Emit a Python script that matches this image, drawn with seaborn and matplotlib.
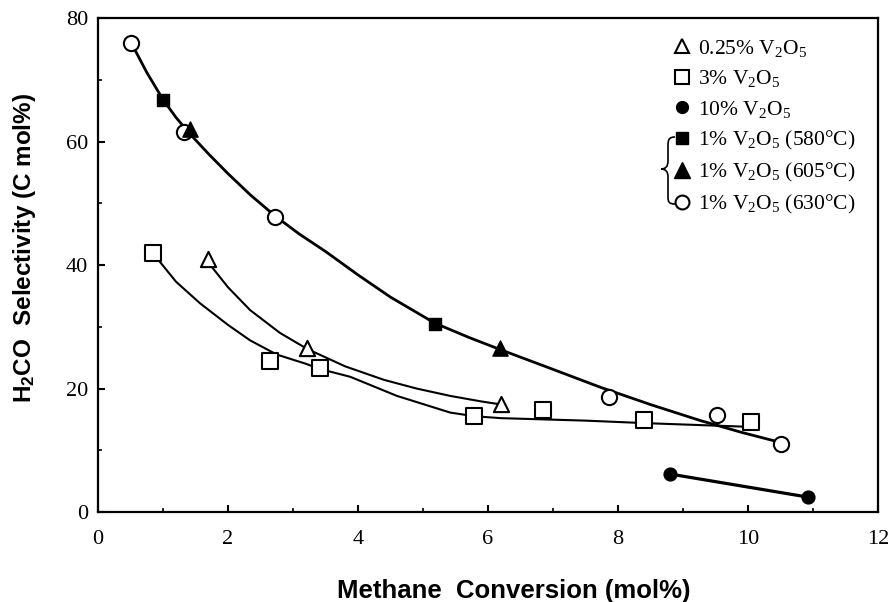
import numpy as np
import matplotlib
matplotlib.use('Agg')
import matplotlib.pyplot as plt
from matplotlib.lines import Line2D
from matplotlib.path import Path
from matplotlib.patches import PathPatch
import seaborn as sns

tri_x = [1.69, 3.22, 6.20]            # 0.25% V2O5
tri_y = [40.9, 26.5, 17.5]
sq_x = [0.85, 2.64, 3.41, 5.78, 6.84, 8.40, 10.05]   # 3% V2O5
sq_y = [42.0, 24.4, 23.4, 15.5, 16.6, 14.9, 14.6]
dot_x = [8.80, 10.93]                 # 10% V2O5
dot_y = [6.15, 2.40]
fsq_x = [1.00, 5.18]                  # 1% V2O5 (580 C)
fsq_y = [66.8, 30.5]
ftri_x = [1.42, 6.19]                 # 1% V2O5 (605 C)
ftri_y = [62.0, 26.5]
circ_x = [0.51, 1.33, 2.73, 7.86, 9.52, 10.51]   # 1% V2O5 (630 C)
circ_y = [76.0, 61.5, 47.8, 18.6, 15.7, 10.95]

# hand drawn trend lines
top_x = [0.51, 0.75, 1.0, 1.2, 1.4, 1.7, 2.0, 2.35, 2.73, 3.1, 3.5, 4.0, 4.5,
         5.18, 5.7, 6.19, 6.9, 7.73, 8.5, 9.27, 9.9, 10.45]
top_y = [76.0, 71.2, 66.8, 63.9, 61.4, 58.0, 54.8, 51.3, 47.9, 45.0, 42.2, 38.4, 34.8,
         30.6, 28.3, 26.3, 23.5, 20.2, 17.4, 14.8, 12.9, 11.4]
tri_line_x = [1.75, 2.0, 2.34, 2.8, 3.22, 3.8, 4.4, 4.9, 5.42, 5.9, 6.15]
tri_line_y = [39.7, 36.4, 32.7, 29.0, 26.4, 23.6, 21.4, 20.0, 18.8, 17.9, 17.5]
sq_line_x = [0.9, 1.2, 1.57, 2.0, 2.34, 2.75, 3.2, 3.4, 3.88, 4.6, 5.42, 5.8, 6.2, 7.5, 8.4, 10.0]
sq_line_y = [41.2, 37.3, 33.8, 30.3, 27.8, 25.5, 24.0, 23.2, 21.9, 18.8, 16.1, 15.5, 15.2, 14.8, 14.4, 13.8]

legend_labels = ['0.25% V$_2$O$_5$', '3% V$_2$O$_5$', '10% V$_2$O$_5$',
                 '1% V$_2$O$_5$ (580°C)', '1% V$_2$O$_5$ (605°C)', '1% V$_2$O$_5$ (630°C)']

sns.set_style('ticks')
plt.rcParams['font.family'] = ['Liberation Serif', 'DejaVu Serif']
plt.rcParams['mathtext.fontset'] = 'custom'
plt.rcParams['mathtext.rm'] = 'Liberation Serif'
plt.rcParams['mathtext.it'] = 'Liberation Serif:italic'
plt.rcParams['mathtext.bf'] = 'Liberation Sans:bold'
for k in ['text.color', 'axes.labelcolor', 'xtick.color', 'ytick.color', 'axes.edgecolor']:
    plt.rcParams[k] = 'black'

W, H = 891, 602
fig = plt.figure(figsize=(W / 100, H / 100), dpi=100)
ax = fig.add_axes([0.110, 0.1495, 0.8754, 0.8205])

# curves
sns.lineplot(x=top_x, y=top_y, color='black', lw=2.0, sort=False, estimator=None, ax=ax, zorder=2)
sns.lineplot(x=tri_line_x, y=tri_line_y, color='black', lw=1.5, sort=False, estimator=None, ax=ax, zorder=2)
sns.lineplot(x=sq_line_x, y=sq_line_y, color='black', lw=1.5, sort=False, estimator=None, ax=ax, zorder=2)
sns.lineplot(x=dot_x, y=dot_y, color='black', lw=2.3, sort=False, estimator=None, ax=ax, zorder=2)

# markers
open_kw = dict(color='white', edgecolor='black', linewidth=1.5, zorder=3, ax=ax, legend=False)
fill_kw = dict(color='black', edgecolor='black', linewidth=1.0, zorder=4, ax=ax, legend=False)
sns.scatterplot(x=circ_x, y=circ_y, marker='o', s=120, **open_kw)
sns.scatterplot(x=tri_x, y=tri_y, marker='^', s=120, **open_kw)
sns.scatterplot(x=sq_x, y=sq_y, marker='s', s=120, **open_kw)
sns.scatterplot(x=dot_x, y=dot_y, marker='o', s=85, **fill_kw)
sns.scatterplot(x=fsq_x, y=fsq_y, marker='s', s=75, **fill_kw)
sns.scatterplot(x=ftri_x, y=ftri_y, marker='^', s=120, **fill_kw)

ax.set_xlim(0, 12)
ax.set_ylim(0, 80)
ax.set_xticks(np.arange(0, 13, 2))
ax.set_yticks(np.arange(0, 81, 20))
ax.set_xticks(np.arange(1, 12, 2), minor=True)
ax.set_yticks(np.arange(10, 80, 20), minor=True)
ax.tick_params(which='major', direction='in', length=5, width=1.5, labelsize=16)
ax.tick_params(which='minor', direction='in', length=3, width=1.2)
ax.tick_params(axis='x', which='major', pad=13)
ax.tick_params(axis='y', which='major', pad=7)
for sp in ax.spines.values():
    sp.set_visible(True)
    sp.set_linewidth(1.6)
    sp.set_color('black')

ax.set_xlabel('Methane  Conversion (mol%)', family='Liberation Sans', fontweight='bold', fontsize=18.5)
ax.set_ylabel(r'H$_\mathbf{2}$CO  Selectivity (C mol%)', family='Liberation Sans', fontweight='bold', fontsize=17.5)
ax.xaxis.set_label_coords(0.533, -0.135)
ax.yaxis.set_label_coords(-0.077, 0.534)

handles = [
    Line2D([], [], ls='none', marker='^', ms=10, mfc='white', mec='black', mew=1.5),
    Line2D([], [], ls='none', marker='s', ms=10, mfc='white', mec='black', mew=1.5),
    Line2D([], [], ls='none', marker='o', ms=8.5, mfc='black', mec='black'),
    Line2D([], [], ls='none', marker='s', ms=8.5, mfc='black', mec='black'),
    Line2D([], [], ls='none', marker='^', ms=11, mfc='black', mec='black'),
    Line2D([], [], ls='none', marker='o', ms=10, mfc='white', mec='black', mew=1.5),
]
ax.legend(handles, legend_labels, loc='upper left', bbox_to_anchor=(673 / W, 1 - 38 / H),
          bbox_transform=fig.transFigure, frameon=False, fontsize=15.5, handlelength=0.85,
          handletextpad=0.3, labelspacing=0.43, borderpad=0, borderaxespad=0)

# thin curly brace grouping the three 1% entries (pixel outline -> figure fraction)
brace_px = [(675, 137), (669, 137), (668, 140), (668, 145), (668, 161),
            (668, 166), (666, 169), (661, 169), (666, 169), (668, 172),
            (668, 177), (668, 197), (668, 202), (669, 204), (675, 204)]
codes = [Path.MOVETO, Path.CURVE4, Path.CURVE4, Path.CURVE4, Path.LINETO,
         Path.CURVE4, Path.CURVE4, Path.CURVE4, Path.CURVE4, Path.CURVE4,
         Path.CURVE4, Path.LINETO, Path.CURVE4, Path.CURVE4, Path.CURVE4]
verts = [(px / W, 1 - py / H) for px, py in brace_px]
fig.add_artist(PathPatch(Path(verts, codes), transform=fig.transFigure,
                         facecolor='none', edgecolor='black', lw=1.2))

fig.savefig('out.png', dpi=100)
